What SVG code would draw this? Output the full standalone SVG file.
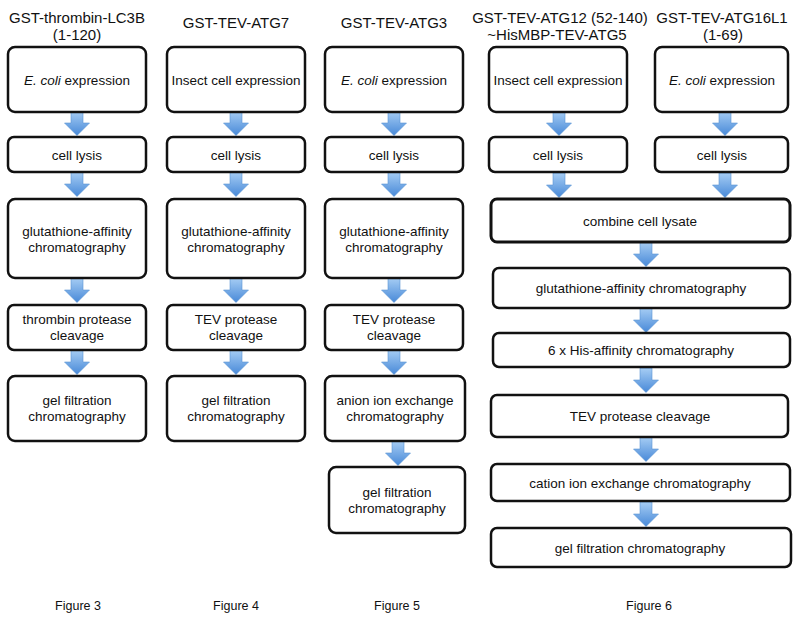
<svg xmlns="http://www.w3.org/2000/svg" width="800" height="625" viewBox="0 0 800 625">
<defs>
<linearGradient id="ag" x1="0" y1="0" x2="0" y2="1">
<stop offset="0" stop-color="#a6cdf4"/>
<stop offset="1" stop-color="#4889d8"/>
</linearGradient>
<path id="arr" d="M-6,0 H6 V12 H12.5 L0,24.5 L-12.5,12 H-6 Z" fill="url(#ag)" stroke="#5c95d4" stroke-width="0.6"/>
</defs>
<style>
.box{fill:#fff;stroke:#111;stroke-width:2.5}
.thick{stroke-width:3}
text{font-family:"Liberation Sans",Arial,sans-serif;fill:#111;text-anchor:middle}
.b{font-size:13.5px}
.h{font-size:15px}
.f{font-size:12.5px}
</style>
<rect width="800" height="625" fill="#fff"/>

<g id="headers">
<text class="h" x="77" y="23">GST-thrombin-LC3B</text>
<text class="h" x="77" y="40">(1-120)</text>
<text class="h" x="236" y="28">GST-TEV-ATG7</text>
<text class="h" x="394" y="28">GST-TEV-ATG3</text>
<text class="h" x="560" y="23">GST-TEV-ATG12 (52-140)</text>
<text class="h" x="557" y="40">~HisMBP-TEV-ATG5</text>
<text class="h" x="722" y="23">GST-TEV-ATG16L1</text>
<text class="h" x="723" y="40">(1-69)</text>
</g>

<g id="connectors">
<use href="#arr" x="77" y="111"/>
<use href="#arr" x="77" y="172"/>
<use href="#arr" x="77" y="278"/>
<use href="#arr" x="77" y="350"/>
<use href="#arr" x="236" y="111"/>
<use href="#arr" x="236" y="172"/>
<use href="#arr" x="236" y="278"/>
<use href="#arr" x="236" y="350"/>
<use href="#arr" x="394" y="111"/>
<use href="#arr" x="394" y="172"/>
<use href="#arr" x="394" y="278"/>
<use href="#arr" x="394" y="350"/>
<use href="#arr" x="398" y="441"/>
<use href="#arr" x="559" y="111"/>
<use href="#arr" x="559" y="173"/>
<use href="#arr" x="725" y="111"/>
<use href="#arr" x="725" y="173"/>
<use href="#arr" x="646" y="242"/>
<use href="#arr" x="646" y="308"/>
<use href="#arr" x="646" y="368"/>
<use href="#arr" x="646" y="437"/>
<use href="#arr" x="646" y="502"/>
</g>

<g id="c1-expr"><rect class="box" x="8" y="47" width="138" height="65" rx="7"/><text class="b" x="77" y="84.5"><tspan font-style="italic">E. coli</tspan> expression</text></g>
<g id="c1-lysis"><rect class="box" x="8" y="137" width="138" height="35" rx="6"/><text class="b" x="77" y="159.5">cell lysis</text></g>
<g id="c1-gsh"><rect class="box" x="8" y="199" width="138" height="79" rx="7"/><text class="b" x="77" y="236">glutathione-affinity</text><text class="b" x="77" y="252">chromatography</text></g>
<g id="c1-prot"><rect class="box" x="8" y="305" width="138" height="45" rx="6"/><text class="b" x="77" y="324">thrombin protease</text><text class="b" x="77" y="340">cleavage</text></g>
<g id="c1-gel"><rect class="box" x="8" y="376" width="138" height="65" rx="7"/><text class="b" x="77" y="405">gel filtration</text><text class="b" x="77" y="421">chromatography</text></g>

<g id="c2-expr"><rect class="box" x="167" y="47" width="138" height="65" rx="7"/><text class="b" x="236" y="84.5">Insect cell expression</text></g>
<g id="c2-lysis"><rect class="box" x="167" y="137" width="138" height="35" rx="6"/><text class="b" x="236" y="159.5">cell lysis</text></g>
<g id="c2-gsh"><rect class="box" x="167" y="199" width="138" height="79" rx="7"/><text class="b" x="236" y="236">glutathione-affinity</text><text class="b" x="236" y="252">chromatography</text></g>
<g id="c2-prot"><rect class="box" x="167" y="305" width="138" height="45" rx="6"/><text class="b" x="236" y="324">TEV protease</text><text class="b" x="236" y="340">cleavage</text></g>
<g id="c2-gel"><rect class="box" x="167" y="376" width="138" height="65" rx="7"/><text class="b" x="236" y="405">gel filtration</text><text class="b" x="236" y="421">chromatography</text></g>

<g id="c3-expr"><rect class="box" x="325" y="47" width="138" height="65" rx="7"/><text class="b" x="394" y="84.5"><tspan font-style="italic">E. coli</tspan> expression</text></g>
<g id="c3-lysis"><rect class="box" x="325" y="137" width="138" height="35" rx="6"/><text class="b" x="394" y="159.5">cell lysis</text></g>
<g id="c3-gsh"><rect class="box" x="325" y="199" width="138" height="79" rx="7"/><text class="b" x="394" y="236">glutathione-affinity</text><text class="b" x="394" y="252">chromatography</text></g>
<g id="c3-prot"><rect class="box" x="325" y="305" width="138" height="45" rx="6"/><text class="b" x="394" y="324">TEV protease</text><text class="b" x="394" y="340">cleavage</text></g>
<g id="c3-anion"><rect class="box" x="325" y="376" width="140" height="65" rx="7"/><text class="b" x="395" y="405">anion ion exchange</text><text class="b" x="395" y="421">chromatography</text></g>
<g id="c3-gel"><rect class="box" x="329" y="467" width="136" height="66" rx="7"/><text class="b" x="397" y="496.5">gel filtration</text><text class="b" x="397" y="512.5">chromatography</text></g>

<g id="c4-expr"><rect class="box" x="489" y="47" width="138" height="65" rx="7"/><text class="b" x="558" y="84.5">Insect cell expression</text></g>
<g id="c4-lysis"><rect class="box" x="489" y="137" width="138" height="35" rx="6"/><text class="b" x="558" y="159.5">cell lysis</text></g>
<g id="c5-expr"><rect class="box" x="655" y="47" width="133" height="65" rx="7"/><text class="b" x="722" y="84.5"><tspan font-style="italic">E. coli</tspan> expression</text></g>
<g id="c5-lysis"><rect class="box" x="655" y="137" width="133" height="35" rx="6"/><text class="b" x="722" y="159.5">cell lysis</text></g>

<g id="c4-combine"><rect class="box thick" x="491" y="199" width="299" height="43" rx="6"/><text class="b" x="640" y="225.5">combine cell lysate</text></g>
<g id="c4-gsh"><rect class="box" x="493" y="268" width="297" height="40" rx="6"/><text class="b" x="641" y="293">glutathione-affinity chromatography</text></g>
<g id="c4-his"><rect class="box" x="493" y="333" width="297" height="34" rx="6"/><text class="b" x="641" y="355">6 x His-affinity chromatography</text></g>
<g id="c4-tev"><rect class="box" x="491" y="395" width="297" height="42" rx="6"/><text class="b" x="640" y="421">TEV protease cleavage</text></g>
<g id="c4-cation"><rect class="box" x="491" y="464" width="299" height="37" rx="6"/><text class="b" x="640" y="487.5">cation ion exchange chromatography</text></g>
<g id="c4-gel"><rect class="box" x="491" y="528" width="300" height="39" rx="6"/><text class="b" x="640" y="552.5">gel filtration chromatography</text></g>

<g id="figure-labels">
<text class="f" x="78" y="610">Figure 3</text>
<text class="f" x="236" y="610">Figure 4</text>
<text class="f" x="397" y="610">Figure 5</text>
<text class="f" x="649" y="610">Figure 6</text>
</g>
</svg>
